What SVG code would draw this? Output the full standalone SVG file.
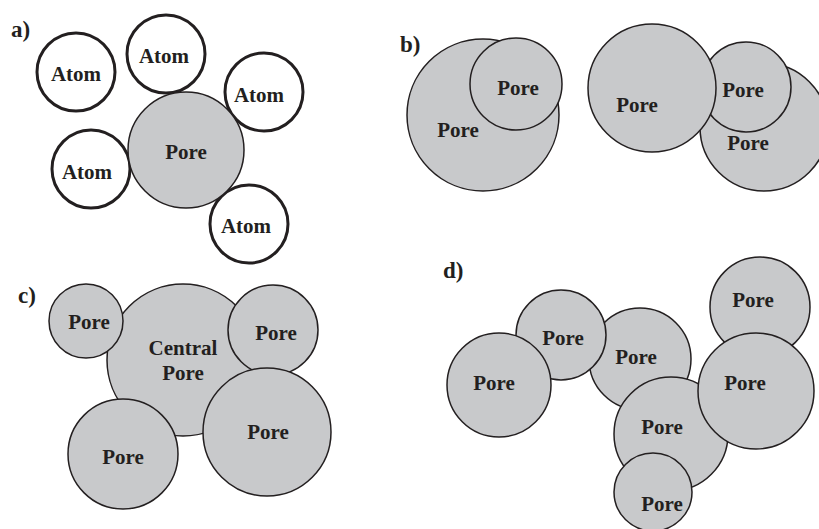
<svg xmlns="http://www.w3.org/2000/svg" width="819" height="529" viewBox="0 0 819 529">
<style>
.atom{fill:#fff;stroke:#231f20;stroke-width:3}
.pore{fill:#c8c9cb;stroke:#231f20;stroke-width:1.5}
text{font-family:"Liberation Serif","Times New Roman",serif;font-weight:bold;fill:#231f20}
.lb{font-size:21px;text-anchor:middle;dominant-baseline:central}
.pn{font-size:23px}
</style>
<rect width="819" height="529" fill="#fff"/>
<g id="panel-a">
<text class="pn" x="11" y="37">a)</text>
<g id="a-atom1"><circle class="atom" cx="76" cy="72" r="39"/><text class="lb" x="76" y="74">Atom</text></g>
<g id="a-atom2"><circle class="atom" cx="166" cy="54" r="39"/><text class="lb" x="164" y="56">Atom</text></g>
<g id="a-atom3"><circle class="atom" cx="264" cy="92" r="39"/><text class="lb" x="259" y="95">Atom</text></g>
<g id="a-atom4"><circle class="atom" cx="91" cy="169" r="39"/><text class="lb" x="87" y="172">Atom</text></g>
<g id="a-atom5"><circle class="atom" cx="249" cy="224" r="39"/><text class="lb" x="246" y="226">Atom</text></g>
<g id="a-pore"><circle class="pore" cx="186" cy="150" r="58"/><text class="lb" x="186" y="152">Pore</text></g>
</g>
<g id="panel-b">
<text class="pn" x="400" y="52">b)</text>
<g id="b-pore1"><circle class="pore" cx="483" cy="115" r="76"/><text class="lb" x="458" y="130">Pore</text></g>
<g id="b-pore2"><circle class="pore" cx="516" cy="84" r="46"/><text class="lb" x="518" y="88">Pore</text></g>
<g id="b-pore5"><circle class="pore" cx="764" cy="127" r="64"/><text class="lb" x="748" y="143">Pore</text></g>
<g id="b-pore4"><circle class="pore" cx="746" cy="87" r="45"/><text class="lb" x="743" y="90">Pore</text></g>
<g id="b-pore3"><circle class="pore" cx="652" cy="88" r="64"/><text class="lb" x="637" y="105">Pore</text></g>
</g>
<g id="panel-c">
<text class="pn" x="18" y="303">c)</text>
<g id="c-central"><circle class="pore" cx="183" cy="360" r="76"/><text class="lb" x="183" y="348">Central</text><text class="lb" x="183" y="373">Pore</text></g>
<g id="c-pore1"><circle class="pore" cx="86" cy="321" r="37"/><text class="lb" x="89" y="322">Pore</text></g>
<g id="c-pore2"><circle class="pore" cx="273" cy="330" r="45"/><text class="lb" x="276" y="333">Pore</text></g>
<g id="c-pore3"><circle class="pore" cx="123" cy="454" r="55"/><text class="lb" x="123" y="457">Pore</text></g>
<g id="c-pore4"><circle class="pore" cx="267" cy="432" r="64"/><text class="lb" x="268" y="432">Pore</text></g>
</g>
<g id="panel-d">
<text class="pn" x="443" y="278">d)</text>
<g id="d-pore3"><circle class="pore" cx="640" cy="359" r="51"/><text class="lb" x="636" y="357">Pore</text></g>
<g id="d-pore2"><circle class="pore" cx="561" cy="335" r="45"/><text class="lb" x="563" y="338">Pore</text></g>
<g id="d-pore1"><circle class="pore" cx="499" cy="385" r="52"/><text class="lb" x="494" y="383">Pore</text></g>
<g id="d-pore4"><circle class="pore" cx="671" cy="434" r="57"/><text class="lb" x="662" y="427">Pore</text></g>
<g id="d-pore5"><circle class="pore" cx="653" cy="492" r="39"/><text class="lb" x="662" y="504">Pore</text></g>
<g id="d-pore6"><circle class="pore" cx="760" cy="307" r="50"/><text class="lb" x="753" y="300">Pore</text></g>
<g id="d-pore7"><circle class="pore" cx="756" cy="391" r="58"/><text class="lb" x="745" y="383">Pore</text></g>
</g>
<g id="connectors"/>
</svg>
